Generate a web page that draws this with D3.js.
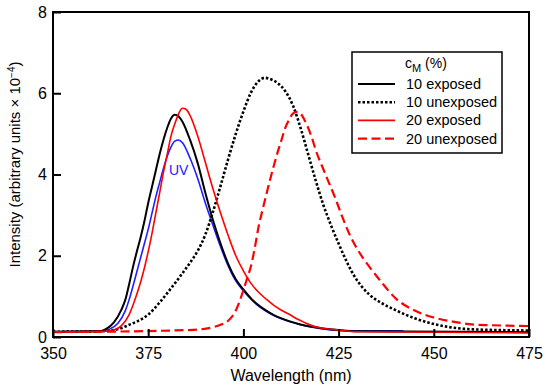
<!DOCTYPE html>
<html>
<head>
<meta charset="utf-8">
<script src="https://cdn.jsdelivr.net/npm/d3@7"></script>
<style>
  body { margin: 0; background: #fff; }
  svg { font-family: "Liberation Sans", Arial, sans-serif; }
</style>
</head>
<body>
<svg id="chart" width="550" height="390"></svg>
<script>
// spectra: [wavelength nm, intensity x 1e-4]
var exposed10 = [[350,0.13],[362,0.14],[364,0.2],[366,0.36],[368,0.68],[369,0.92],[370,1.3],[371,1.72],[372,2.1],
  [373,2.45],[374,2.85],[375,3.3],[376,3.7],[377,4.1],[378,4.5],[379,4.85],[380,5.15],[381,5.38],[382,5.47],
  [383,5.43],[384,5.3],[386,4.85],[388,4.28],[390,3.55],[392,2.88],[394,2.3],[396,1.8],[398,1.42],[400,1.17],
  [402,0.95],[404,0.78],[406,0.65],[408,0.54],[410,0.46],[412,0.39],[415,0.31],[418,0.25],[420,0.22],[425,0.17],
  [430,0.14],[475,0.12]];

var uv10 = [[350,0.13],[363,0.15],[365,0.2],[367,0.33],[369,0.65],[370,0.92],[371,1.25],[372,1.6],[373,1.95],
  [374,2.3],[375,2.65],[376,3.05],[377,3.45],[378,3.8],[379,4.15],[380,4.45],[381,4.68],[382,4.82],[383,4.85],
  [384,4.78],[386,4.4],[388,3.9],[390,3.3],[392,2.75],[394,2.22],[396,1.75],[398,1.38],[400,1.14],[402,0.93],
  [404,0.76],[406,0.63],[408,0.53],[410,0.45],[412,0.38],[415,0.3],[418,0.24],[420,0.21],[425,0.16],[430,0.15],
  [442,0.15]];

var unexposed10 = [[350,0.13],[362,0.14],[366,0.17],[368,0.22],[370,0.3],[372,0.38],[375,0.55],[378,0.85],
  [380,1.08],[382,1.32],[384,1.57],[386,1.83],[388,2.12],[390,2.52],[392,3.08],[394,3.72],[396,4.38],[398,5.0],
  [400,5.55],[402,6.02],[404,6.3],[405.6,6.38],[407,6.35],[409,6.25],[411,6.05],[413,5.7],[415,5.15],[417,4.5],
  [419,3.85],[421,3.25],[423,2.75],[425,2.3],[427,1.88],[429,1.52],[431,1.25],[433,1.05],[436,0.85],[440,0.66],
  [445,0.46],[450,0.32],[455,0.23],[460,0.19],[475,0.16]];

var exposed20 = [[350,0.12],[364,0.14],[366,0.17],[368,0.28],[370,0.55],[371,0.78],[372,1.05],[373,1.35],[374,1.7],
  [375,2.1],[376,2.55],[377,3.05],[378,3.55],[379,4.05],[380,4.5],[381,4.95],[382,5.25],[383,5.5],[384,5.63],
  [385,5.6],[386,5.45],[388,4.95],[390,4.3],[392,3.65],[394,3.05],[396,2.5],[398,2.0],[400,1.63],[402,1.32],
  [404,1.1],[406,0.93],[408,0.78],[410,0.66],[412,0.56],[414,0.45],[416,0.36],[418,0.28],[420,0.23],[425,0.17],
  [430,0.13],[475,0.1]];

var unexposed20 = [[350,0.12],[385,0.17],[389,0.19],[392,0.24],[394,0.3],[396,0.4],[397,0.5],[398,0.65],[399,0.88],
  [400,1.15],[401,1.45],[402,1.75],[403,2.2],[404,2.72],[405,3.12],[406,3.5],[407,3.87],[408,4.22],[409,4.55],
  [410,4.85],[411,5.15],[412,5.35],[413,5.5],[414,5.54],[415,5.5],[416,5.35],[417,5.15],[418,4.9],[419,4.6],
  [420,4.35],[421,4.13],[422,3.9],[424,3.45],[426,2.95],[428,2.5],[430,2.15],[433,1.74],[436,1.38],[440,0.95],
  [445,0.65],[450,0.48],[455,0.38],[460,0.31],[465,0.29],[475,0.27]];

var xTicks = [350, 375, 400, 425, 450, 475];
var yTicks = [0, 2, 4, 6, 8];
var legendLabels = ["10 exposed", "10 unexposed", "20 exposed", "20 unexposed"];

var svg = d3.select("#chart");
var margins = {left: 53, top: 12, right: 21, bottom: 53};
var width = 550 - margins.left - margins.right;
var height = 390 - margins.top - margins.bottom;

var x = d3.scaleLinear().domain([350, 475]).range([margins.left, margins.left + width]);
var y = d3.scaleLinear().domain([0, 8]).range([margins.top + height, margins.top]);

// series styles, same order as the legend
var series = [
  {data: exposed10, color: "#000", width: 2, dash: null},
  {data: unexposed10, color: "#000", width: 2.6, dash: "2.5,2"},
  {data: exposed20, color: "#ff0000", width: 1.6, dash: null},
  {data: unexposed20, color: "#ff0000", width: 2.2, dash: "9,4.5"}
];

var line = d3.line()
  .x(function(d) { return x(d[0]); })
  .y(function(d) { return y(d[1]); })
  .curve(d3.curveMonotoneX);

var plot = svg.append("g");

// blue UV curve drawn first, under the black one
plot.append("path")
  .datum(uv10)
  .attr("fill", "none")
  .attr("stroke", "#2020ff")
  .attr("stroke-width", 1.6)
  .attr("d", line);

series.forEach(function(s) {
  plot.append("path")
    .datum(s.data)
    .attr("fill", "none")
    .attr("stroke", s.color)
    .attr("stroke-width", s.width)
    .attr("stroke-dasharray", s.dash)
    .attr("d", line);
});

svg.append("text")
  .attr("x", x(383))
  .attr("y", y(4.0))
  .attr("text-anchor", "middle")
  .attr("font-size", 14)
  .attr("fill", "#2020ff")
  .text("UV");

// axes with inward ticks
var xAxis = svg.append("g")
  .attr("transform", "translate(0," + (margins.top + height) + ")")
  .call(d3.axisBottom(x).tickValues(xTicks).tickSize(-8).tickPadding(11).tickFormat(d3.format("d")));

var yAxis = svg.append("g")
  .attr("transform", "translate(" + margins.left + ",0)")
  .call(d3.axisLeft(y).tickValues(yTicks).tickSize(-8).tickPadding(6).tickFormat(d3.format("d")));

[xAxis, yAxis].forEach(function(a) {
  a.select(".domain").remove();
  a.selectAll(".tick line").attr("stroke", "#000").attr("stroke-width", 2);
  a.selectAll(".tick text").attr("font-size", 16).attr("fill", "#000")
    .attr("font-family", "Liberation Sans, Arial, sans-serif");
});

// frame
svg.append("rect")
  .attr("x", margins.left)
  .attr("y", margins.top)
  .attr("width", width)
  .attr("height", height)
  .attr("fill", "none")
  .attr("stroke", "#000")
  .attr("stroke-width", 2);

svg.append("text")
  .attr("x", margins.left + width / 2)
  .attr("y", 381)
  .attr("text-anchor", "middle")
  .attr("font-size", 16)
  .text("Wavelength (nm)");

var yTitle = svg.append("text")
  .attr("transform", "translate(20," + (margins.top + height / 2 - 10) + ") rotate(-90)")
  .attr("text-anchor", "middle")
  .attr("font-size", 15);
yTitle.append("tspan").text("Intensity (arbitrary units \u00d7 10");
yTitle.append("tspan").attr("dy", -5).attr("font-size", 10).text("\u22124");
yTitle.append("tspan").attr("dy", 5).text(")");

// legend
var legend = svg.append("g").attr("transform", "translate(352,52)");
legend.append("rect")
  .attr("width", 150)
  .attr("height", 101)
  .attr("fill", "#fff")
  .attr("stroke", "#000")
  .attr("stroke-width", 1.5);

var lt = legend.append("text").attr("x", 53).attr("y", 16).attr("font-size", 14);
lt.append("tspan").text("c");
lt.append("tspan").attr("dy", 4).attr("font-size", 11).text("M");
lt.append("tspan").attr("dy", -4).text(" (%)");

legendLabels.forEach(function(label, i) {
  var s = series[i];
  var ly = 32 + i * 18.2;
  legend.append("line")
    .attr("x1", 6).attr("x2", 43)
    .attr("y1", ly).attr("y2", ly)
    .attr("stroke", s.color)
    .attr("stroke-width", s.width)
    .attr("stroke-dasharray", s.dash);
  legend.append("text")
    .attr("x", 54)
    .attr("y", ly + 5)
    .attr("font-size", 14.5)
    .text(label);
});
</script>
</body>
</html>
